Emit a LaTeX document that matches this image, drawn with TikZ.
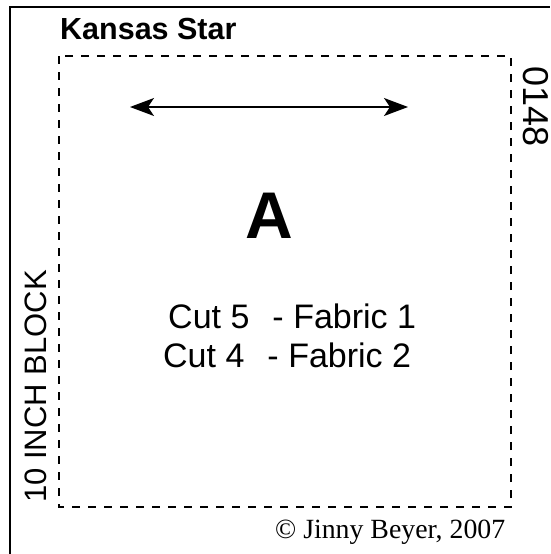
\documentclass[tikz,border=0pt]{standalone}
\usepackage{fontspec}
\setmainfont{Liberation Sans}
\newfontfamily\copyfont{Liberation Serif}
\usetikzlibrary{arrows.meta}

\begin{document}
\begin{tikzpicture}[
		x=1pt, y=-1pt,
		label text/.style={inner sep=0pt, anchor=base west},
		cut line/.style={dash pattern=on 8pt off 8pt, line width=2.4pt},
	]
	\useasboundingbox (0,0) rectangle (550,554);
	\draw[line width=2.2pt] (10,554) -- (10,7) -- (550,7);
	\draw[cut line] (59,56) rectangle (511,507);
	\node[label text] (title) at (60,39) {\fontsize{30.5}{36}\selectfont\bfseries Kansas Star};
	\node[label text, rotate=90] (blocklabel) at (46,503) {\fontsize{31}{36}\selectfont 10 INCH BLOCK};
	\node[label text, rotate=-90] (number) at (523,66) {\fontsize{36}{40}\selectfont 0148};
	% grain line
	\coordinate (grainL) at (130,107);
	\coordinate (grainR) at (408,107);
	\draw[line width=1.3pt, {Stealth[length=24pt,width=18pt,inset=6pt]}-{Stealth[length=24pt,width=18pt,inset=6pt]}] (grainL) -- (grainR);
	\node[inner sep=0pt, anchor=base] (letter) at (269,238) {\fontsize{66}{70}\selectfont\bfseries A};
	\node[label text] (cutone) at (168,328) {\fontsize{34}{38}\selectfont Cut 5\hspace{0.4em} - Fabric 1};
	\node[label text] (cuttwo) at (163,367) {\fontsize{34}{38}\selectfont Cut 4\hspace{0.4em} - Fabric 2};
	\node[label text] (copyright) at (275,538) {\fontsize{27.8}{30}\selectfont\copyfont \textcopyright{} Jinny Beyer, 2007};
\end{tikzpicture}
\end{document}
